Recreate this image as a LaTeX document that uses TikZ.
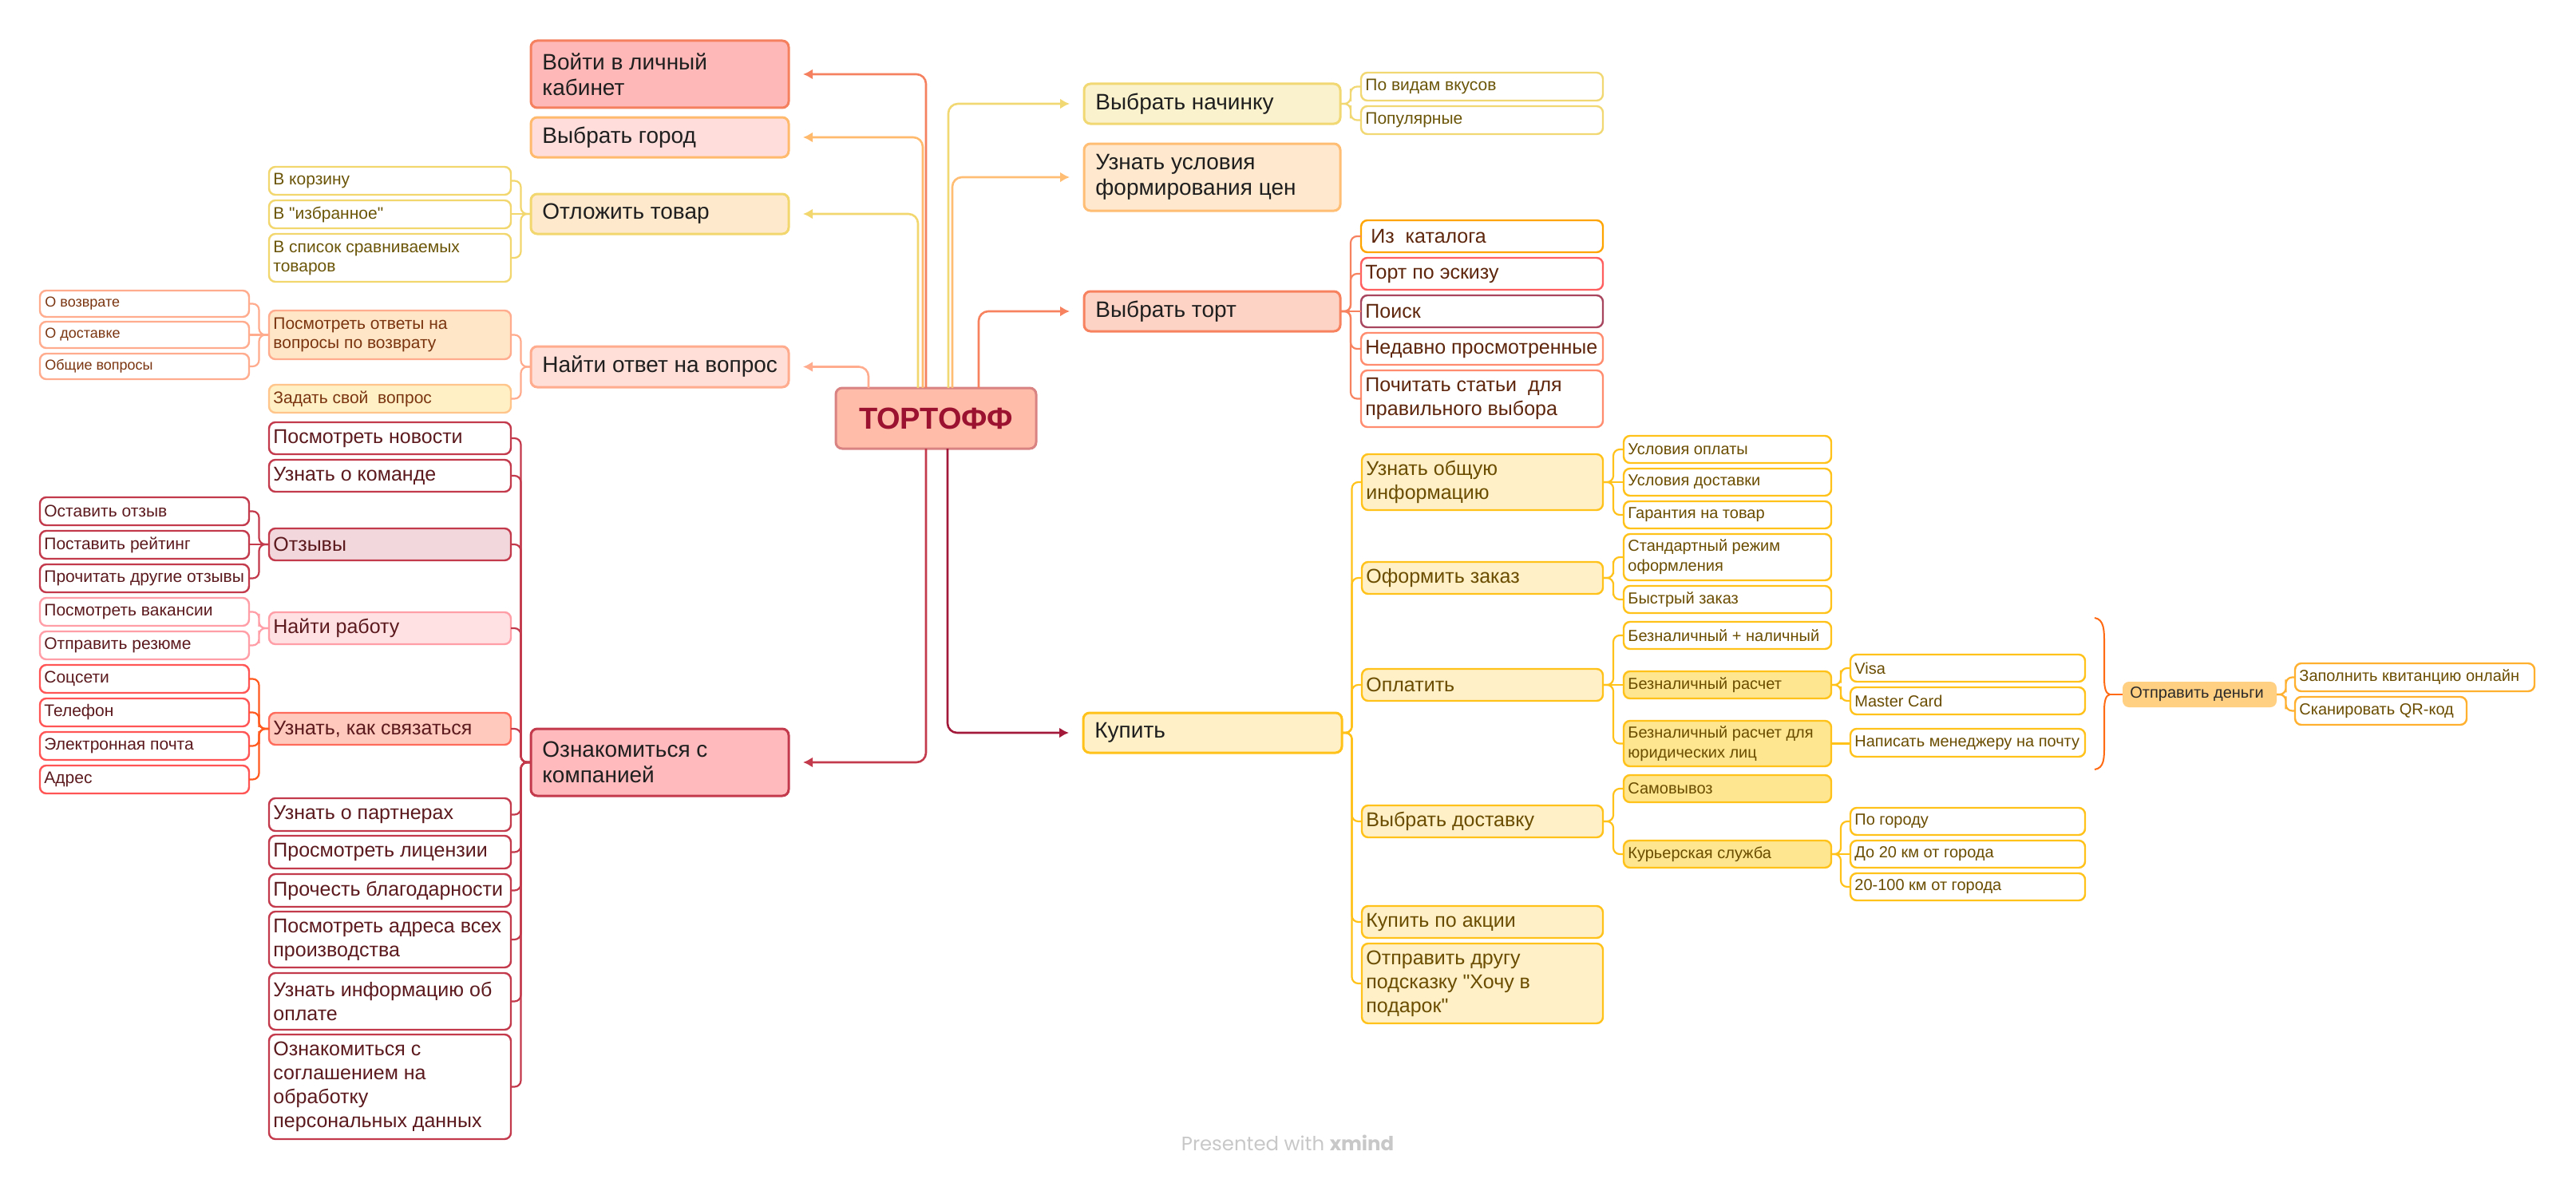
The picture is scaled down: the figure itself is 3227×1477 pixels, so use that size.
\documentclass[tikz,border=0pt]{standalone}
\usepackage{fontspec}
\setmainfont{Liberation Sans}[Ligatures=TeXOff]
\newfontfamily\markfont{Poppins}
\usetikzlibrary{calc,arrows.meta}

% ---------- palette ----------
\definecolor{rootfill}{HTML}{FFBCA8}
\definecolor{rootdraw}{HTML}{D98383}
\definecolor{roottext}{HTML}{9B1230}
\definecolor{cVoiti}{HTML}{F5805F}  \definecolor{fVoiti}{HTML}{FFB8B8}
\definecolor{cGorod}{HTML}{FFBA6E}  \definecolor{fGorod}{HTML}{FFDDDB}
\definecolor{cOtl}{HTML}{F2D66E}    \definecolor{fOtl}{HTML}{FFE9CD}
\definecolor{cNaiti}{HTML}{FFAB8E}  \definecolor{fNaiti}{HTML}{FFDFD8}
\definecolor{cOzn}{HTML}{C33A4C}    \definecolor{fOzn}{HTML}{FFBABD}
\definecolor{cNach}{HTML}{F2D873}   \definecolor{fNach}{HTML}{FAF2CD}
\definecolor{cUsl}{HTML}{FFBE74}    \definecolor{fUsl}{HTML}{FFE8CD}
\definecolor{cTort}{HTML}{F7825F}   \definecolor{fTort}{HTML}{FDD3C5}
\definecolor{cKup}{HTML}{FFC21A}    \definecolor{fKup}{HTML}{FFF0C7}
\definecolor{cKupLine}{HTML}{A3193A}
\definecolor{fKupDeep}{HTML}{FDE68F}
\definecolor{fOtvety}{HTML}{FFE6C6}
\definecolor{fZadat}{HTML}{FFF0C6}  \definecolor{cZadat}{HTML}{FFC58A}
\definecolor{fOtzyvy}{HTML}{F2D7DC}
\definecolor{fRabota}{HTML}{FFE1E4} \definecolor{cRabota}{HTML}{FF9EA6}
\definecolor{fSvyaz}{HTML}{FFCABD}  \definecolor{cSvyaz}{HTML}{FF6B5B}
\definecolor{cSvyazKids}{HTML}{FF5555}
\definecolor{cSvyazLink}{HTML}{FF5A1F}
\definecolor{cKatalog}{HTML}{FFA500}
\definecolor{cEskiz}{HTML}{FF5F5F}
\definecolor{cPoisk}{HTML}{A8465F}
\definecolor{cNedavno}{HTML}{FF8C6E}
\definecolor{cBrace}{HTML}{FF6A13}
\definecolor{fSend}{HTML}{FFCF82}
\definecolor{cSend}{HTML}{FFB02E}
\definecolor{tMain}{HTML}{1F1F1F}
\definecolor{tOlive}{HTML}{6B5508}
\definecolor{tBrown}{HTML}{7A3510}
\definecolor{tMaroon}{HTML}{5C1A1E}
\definecolor{tKup}{HTML}{6B4D00}
\definecolor{tTort}{HTML}{5E260C}
\definecolor{tSend}{HTML}{2A2A2A}
\definecolor{tMark}{HTML}{C8C8C8}

\tikzset{
  base/.style={rounded corners=4pt, outer sep=0pt, inner sep=0pt},
  l1/.style={base, line width=1.5pt},
  l2/.style={base, line width=1.2pt},
  txt/.style={inner sep=0pt, anchor=west, align=left},
  t1/.style={txt, xshift=7pt, text=tMain, font=\fontsize{14}{16}\selectfont},
  t2/.style={txt, xshift=2.5pt, font=\fontsize{12.5}{15}\selectfont},
  t2s/.style={txt, xshift=2.5pt, font=\fontsize{10.5}{12}\selectfont},
  t3/.style={txt, xshift=2.5pt, font=\fontsize{10}{12.5}\selectfont},
  t4/.style={txt, xshift=3pt, font=\fontsize{9}{11}\selectfont},
  rootarrow/.style={line width=1.3pt, rounded corners=6pt,
    -{Latex[length=6pt,width=6.5pt]}, shorten >=9pt},
  link/.style={line width=1.1pt, rounded corners=4pt},
}

% box from (x1,y1) to (x2,y2) with its label set at the left
% #1 box style, #2 label style, #3 name, #4 x1, #5 y1, #6 x2, #7 y2, #8 label
\newcommand\topic[8]{%
  \node[#1, anchor=north west, minimum width={(#6-#4)*0.5pt},
        minimum height={(#7-#5)*0.5pt}] (#3) at (#4,#5) {};
  \node[#2] (#3-t) at (#3.west) {#8};
}
% elbow links: parent to a child on its left / right, and straight variants
\newcommand\linkL[3]{\draw[link,#1] (#2.west) -| ($(#2.west)!.5!(#3.east)$) |- (#3.east);}
\newcommand\linkR[3]{\draw[link,#1] (#2.east) -| ($(#2.east)!.5!(#3.west)$) |- (#3.west);}
\newcommand\linkLs[3]{\draw[link,#1] (#2.west) -- (#2.west -| #3.east);}
\newcommand\linkRs[3]{\draw[link,#1] (#2.east) -- (#2.east -| #3.west);}

\begin{document}
\begin{tikzpicture}[x=0.5pt, y=-0.5pt]
\useasboundingbox (0,0) rectangle (3227,1477);
\fill[white] (0,0) rectangle (3227,1477);

% ---------- central topic ----------
\node[base, line width=1.5pt, fill=rootfill, draw=rootdraw, anchor=north west,
      minimum width=125.5pt, minimum height=38pt, text=roottext,
      font=\bfseries\fontsize{19}{22}\selectfont] (root) at (1047,486) {ТОРТОФФ};

% ---------- main branches ----------
\topic{l1, fill=fVoiti, draw=cVoiti}{t1}{voiti}{665}{51}{988}{135}{Войти в личный\\кабинет}
\topic{l1, fill=fGorod, draw=cGorod}{t1}{gorod}{665}{147}{988}{197}{Выбрать город}
\topic{l1, fill=fOtl, draw=cOtl}{t1}{otlozh}{665}{243}{988}{293}{Отложить товар}
\topic{l1, fill=fNaiti, draw=cNaiti}{t1}{naiti}{665}{434}{988}{485}{Найти ответ на вопрос}
\topic{l1, fill=fOzn, draw=cOzn}{t1}{oznak}{665}{913}{988}{997}{Ознакомиться с\\компанией}
\topic{l1, fill=fNach, draw=cNach}{t1}{nachinka}{1358}{105}{1679}{155}{Выбрать начинку}
\topic{l1, fill=fUsl, draw=cUsl}{t1}{usloviya}{1358}{180}{1679}{264}{Узнать условия\\формирования цен}
\topic{l1, fill=fTort, draw=cTort}{t1}{tort}{1358}{365}{1679}{415}{Выбрать торт}
\topic{l1, fill=fKup, draw=cKup}{t1}{kupit}{1357}{893}{1681}{943}{Купить}

% ---------- Отложить товар ----------
\topic{l2, fill=white, draw=cOtl}{t2s, text=tOlive}{korz}{337}{209}{640}{244}{В корзину}
\topic{l2, fill=white, draw=cOtl}{t2s, text=tOlive}{izbr}{337}{251}{640}{286}{В "избранное"}
\topic{l2, fill=white, draw=cOtl}{t2s, text=tOlive}{spisok}{337}{293}{640}{353}{В список сравниваемых\\товаров}

% ---------- Найти ответ на вопрос ----------
\topic{l2, fill=fOtvety, draw=cNaiti}{t2s, text=tBrown}{otvety}{337}{389}{640}{450}{Посмотреть ответы на\\вопросы по возврату}
\topic{l2, fill=fZadat, draw=cZadat}{t2s, text=tBrown}{zadat}{337}{482}{640}{517}{Задать свой~~вопрос}
\topic{l2, fill=white, draw=cNaiti}{t4, text=tBrown}{vozvrat}{50}{364}{312}{397}{О возврате}
\topic{l2, fill=white, draw=cNaiti}{t4, text=tBrown}{odost}{50}{403}{312}{436}{О доставке}
\topic{l2, fill=white, draw=cNaiti}{t4, text=tBrown}{obshie}{50}{443}{312}{475}{Общие вопросы}

% ---------- Ознакомиться с компанией ----------
\topic{l2, fill=white, draw=cOzn}{t2, text=tMaroon}{novosti}{337}{529}{640}{569}{Посмотреть новости}
\topic{l2, fill=white, draw=cOzn}{t2, text=tMaroon}{komanda}{337}{576}{640}{616}{Узнать о команде}
\topic{l2, fill=fOtzyvy, draw=cOzn}{t2, text=tMaroon}{otzyvy}{337}{662}{640}{702}{Отзывы}
\topic{l2, fill=fRabota, draw=cRabota}{t2, text=tMaroon}{rabota}{337}{767}{640}{807}{Найти работу}
\topic{l2, fill=fSvyaz, draw=cSvyaz}{t2, text=tMaroon}{svyaz}{337}{893}{640}{933}{Узнать, как связаться}
\topic{l2, fill=white, draw=cOzn}{t2, text=tMaroon}{partnery}{337}{1000}{640}{1041}{Узнать о партнерах}
\topic{l2, fill=white, draw=cOzn}{t2, text=tMaroon}{licenzii}{337}{1047}{640}{1088}{Просмотреть лицензии}
\topic{l2, fill=white, draw=cOzn}{t2, text=tMaroon}{blagod}{337}{1095}{640}{1136}{Прочесть благодарности}
\topic{l2, fill=white, draw=cOzn}{t2, text=tMaroon}{adresa}{337}{1142}{640}{1212}{Посмотреть адреса всех\\производства}
\topic{l2, fill=white, draw=cOzn}{t2, text=tMaroon}{infoopl}{337}{1219}{640}{1290}{Узнать информацию об\\оплате}
\topic{l2, fill=white, draw=cOzn}{t2, text=tMaroon}{soglash}{337}{1296}{640}{1427}{Ознакомиться с\\соглашением на\\обработку\\персональных данных}

\topic{l2, fill=white, draw=cOzn}{t2s, text=tMaroon}{ostavit}{50}{623}{312}{658}{Оставить отзыв}
\topic{l2, fill=white, draw=cOzn}{t2s, text=tMaroon}{reiting}{50}{665}{312}{700}{Поставить рейтинг}
\topic{l2, fill=white, draw=cOzn}{t2s, text=tMaroon}{prochitat}{50}{707}{312}{742}{Прочитать другие отзывы}
\topic{l2, fill=white, draw=cRabota}{t2s, text=tMaroon}{vakansii}{50}{749}{312}{784}{Посмотреть вакансии}
\topic{l2, fill=white, draw=cRabota}{t2s, text=tMaroon}{rezume}{50}{791}{312}{826}{Отправить резюме}
\topic{l2, fill=white, draw=cSvyazKids}{t2s, text=tMaroon}{socseti}{50}{833}{312}{868}{Соцсети}
\topic{l2, fill=white, draw=cSvyazKids}{t2s, text=tMaroon}{telefon}{50}{875}{312}{910}{Телефон}
\topic{l2, fill=white, draw=cSvyazKids}{t2s, text=tMaroon}{email}{50}{917}{312}{952}{Электронная почта}
\topic{l2, fill=white, draw=cSvyazKids}{t2s, text=tMaroon}{adres}{50}{959}{312}{994}{Адрес}

% ---------- Выбрать начинку ----------
\topic{l2, fill=white, draw=cNach}{t2s, text=tOlive}{vkusy}{1705}{91}{2008}{126}{По видам вкусов}
\topic{l2, fill=white, draw=cNach}{t2s, text=tOlive}{populyar}{1705}{133}{2008}{168}{Популярные}

% ---------- Выбрать торт ----------
\topic{l2, fill=white, draw=cKatalog}{t2, text=tTort}{katalog}{1705}{276}{2008}{316}{\hspace{3.5pt}Из~~каталога}
\topic{l2, fill=white, draw=cEskiz}{t2, text=tTort}{eskiz}{1705}{323}{2008}{363}{Торт по эскизу}
\topic{l2, fill=white, draw=cPoisk}{t2, text=tTort}{poisk}{1705}{370}{2008}{410}{Поиск}
\topic{l2, fill=white, draw=cNedavno}{t2, text=tTort}{nedavno}{1705}{417}{2008}{457}{Недавно просмотренные}
\topic{l2, fill=white, draw=cNedavno}{t2, text=tTort}{statyi}{1705}{464}{2008}{535}{Почитать статьи~~для\\правильного выбора}

% ---------- Купить ----------
\topic{l2, fill=fKup, draw=cKup}{t2, text=tKup}{obshaya}{1706}{569}{2008}{639}{Узнать общую\\информацию}
\topic{l2, fill=fKup, draw=cKup}{t2, text=tKup}{oformit}{1706}{704}{2008}{744}{Оформить заказ}
\topic{l2, fill=fKup, draw=cKup}{t2, text=tKup}{oplatit}{1706}{838}{2008}{878}{Оплатить}
\topic{l2, fill=fKup, draw=cKup}{t2, text=tKup}{vybdost}{1706}{1009}{2008}{1049}{Выбрать доставку}
\topic{l2, fill=fKup, draw=cKup}{t2, text=tKup}{akciya}{1706}{1135}{2008}{1175}{Купить по акции}
\topic{l2, fill=fKup, draw=cKup}{t2, text=tKup}{drugu}{1706}{1182}{2008}{1282}{Отправить другу\\подсказку "Хочу в\\подарок"}

\topic{l2, fill=white, draw=cKup}{t3, text=tKup}{uslopl}{2034}{546}{2294}{580}{Условия оплаты}
\topic{l2, fill=white, draw=cKup}{t3, text=tKup}{usldost}{2034}{587}{2294}{621}{Условия доставки}
\topic{l2, fill=white, draw=cKup}{t3, text=tKup}{garant}{2034}{628}{2294}{662}{Гарантия на товар}
\topic{l2, fill=white, draw=cKup}{t3, text=tKup}{standart}{2034}{669}{2294}{727}{Стандартный режим\\оформления}
\topic{l2, fill=white, draw=cKup}{t3, text=tKup}{bystry}{2034}{734}{2294}{768}{Быстрый заказ}
\topic{l2, fill=white, draw=cKup}{t3, text=tKup}{smesh}{2034}{779}{2294}{813}{Безналичный + наличный}
\topic{l2, fill=fKupDeep, draw=cKup}{t3, text=tKup}{beznal}{2034}{841}{2294}{875}{Безналичный расчет}
\topic{l2, fill=fKupDeep, draw=cKup}{t3, text=tKup}{yurlic}{2034}{903}{2294}{960}{Безналичный расчет для\\юридических лиц}
\topic{l2, fill=fKupDeep, draw=cKup}{t3, text=tKup}{samovyvoz}{2034}{971}{2294}{1005}{Самовывоз}
\topic{l2, fill=fKupDeep, draw=cKup}{t3, text=tKup}{kurier}{2034}{1053}{2294}{1087}{Курьерская служба}

\topic{l2, fill=white, draw=cKup}{t3, text=tKup}{visa}{2318}{820}{2612}{854}{Visa}
\topic{l2, fill=white, draw=cKup}{t3, text=tKup}{master}{2318}{861}{2612}{895}{Master Card}
\topic{l2, fill=white, draw=cKup}{t3, text=tKup}{napisat}{2318}{913}{2612}{948}{Написать менеджеру на почту}
\topic{l2, fill=white, draw=cKup}{t3, text=tKup}{pogorodu}{2318}{1012}{2612}{1046}{По городу}
\topic{l2, fill=white, draw=cKup}{t3, text=tKup}{do20}{2318}{1053}{2612}{1087}{До 20 км от города}
\topic{l2, fill=white, draw=cKup}{t3, text=tKup}{do100}{2318}{1094}{2612}{1128}{20-100 км от города}

% ---------- summary of the payment options ----------
\topic{base, fill=fSend}{t3, xshift=2pt, text=tSend}{dengi}{2659}{854}{2852}{886}{Отправить деньги}
\topic{l2, fill=white, draw=cSend}{t3, text=tKup}{kvit}{2875}{831}{3175}{866}{Заполнить квитанцию онлайн}
\topic{l2, fill=white, draw=cSend}{t3, text=tKup}{qr}{2875}{873}{3090}{908}{Сканировать QR-код}

\draw[cBrace, line width=1pt]
  (2624,774) .. controls (2636,776) and (2636,790) .. (2636,806)
  -- (2636,850) .. controls (2636,862) and (2638,869) .. (2643,870)
  .. controls (2638,871) and (2636,878) .. (2636,890)
  -- (2636,934) .. controls (2636,950) and (2636,962) .. (2624,964);
\coordinate (bracetip) at (2643,870);
\draw[link, cBrace] (bracetip) -- (bracetip -| dengi.west);

% ---------- links from the central topic ----------
\draw[rootarrow, cVoiti] ($(root.north west)+(113,0)$) |- (voiti.east);
\draw[rootarrow, cGorod] ($(root.north west)+(109,0)$) |- (gorod.east);
\draw[rootarrow, cOtl] ($(root.north west)+(103,0)$) |- (otlozh.east);
\draw[rootarrow, cNaiti] ($(root.north west)+(41,0)$) |- (naiti.east);
\draw[rootarrow, cNach] ($(root.north west)+(141,0)$) |- (nachinka.west);
\draw[rootarrow, cUsl] ($(root.north west)+(146,0)$) |- (usloviya.west);
\draw[rootarrow, cTort] ($(root.north west)+(179,0)$) |- (tort.west);
\draw[rootarrow, cOzn] ($(root.south west)+(113,0)$) |- (oznak.east);
\draw[rootarrow, cKupLine] ($(root.south west)+(140,0)$) |- (kupit.west);

% ---------- links inside the branches ----------
\linkL{cOtl}{otlozh}{korz}
\linkLs{cOtl}{otlozh}{izbr}
\linkL{cOtl}{otlozh}{spisok}

\linkL{cNaiti}{naiti}{otvety}
\linkL{cNaiti}{naiti}{zadat}
\linkL{cNaiti}{otvety}{vozvrat}
\linkLs{cNaiti}{otvety}{odost}
\linkL{cNaiti}{otvety}{obshie}

\foreach \k in {novosti,komanda,otzyvy,rabota,svyaz,partnery,licenzii,blagod,adresa,infoopl,soglash}
  {\linkL{cOzn}{oznak}{\k}}
\linkL{cOzn}{otzyvy}{ostavit}
\linkLs{cOzn}{otzyvy}{reiting}
\linkL{cOzn}{otzyvy}{prochitat}
\linkL{cRabota}{rabota}{vakansii}
\linkL{cRabota}{rabota}{rezume}
\foreach \k in {socseti,telefon,email,adres}
  {\linkL{cSvyazLink}{svyaz}{\k}}

\linkR{cNach}{nachinka}{vkusy}
\linkR{cNach}{nachinka}{populyar}

\linkR{cTort}{tort}{katalog}
\linkR{cTort}{tort}{eskiz}
\linkRs{cTort}{tort}{poisk}
\linkR{cTort}{tort}{nedavno}
\linkR{cTort}{tort}{statyi}

\foreach \k in {obshaya,oformit,oplatit,vybdost,akciya,drugu}
  {\linkR{cKup}{kupit}{\k}}
\linkR{cKup}{obshaya}{uslopl}
\linkRs{cKup}{obshaya}{usldost}
\linkR{cKup}{obshaya}{garant}
\linkR{cKup}{oformit}{standart}
\linkR{cKup}{oformit}{bystry}
\linkR{cKup}{oplatit}{smesh}
\linkRs{cKup}{oplatit}{beznal}
\linkR{cKup}{oplatit}{yurlic}
\linkR{cKup}{vybdost}{samovyvoz}
\linkR{cKup}{vybdost}{kurier}
\linkR{cKup}{beznal}{visa}
\linkR{cKup}{beznal}{master}
\linkRs{cKup}{yurlic}{napisat}
\linkR{cKup}{kurier}{pogorodu}
\linkRs{cKup}{kurier}{do20}
\linkR{cKup}{kurier}{do100}
\linkR{cSend}{dengi}{kvit}
\linkR{cSend}{dengi}{qr}

% ---------- footer ----------
\node[text=tMark, font=\markfont\fontsize{12.2}{14}\selectfont] (footer) at (1613,1432)
  {Presented with \textbf{xmind}};
\end{tikzpicture}
\end{document}
